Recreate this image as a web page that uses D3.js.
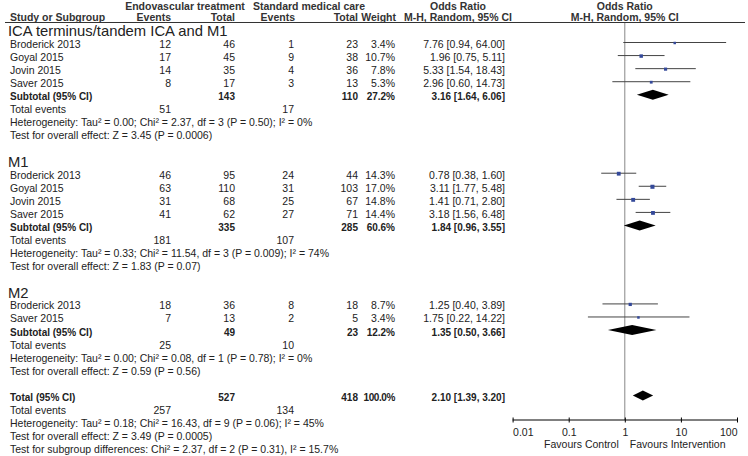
<!DOCTYPE html>
<html>
<head>
<meta charset="utf-8">
<script src="https://cdn.jsdelivr.net/npm/d3@7"></script>
<style>
  html, body { margin: 0; padding: 0; background: #fff; }
  svg { display: block; }
  text { font-family: "Liberation Sans", Arial, sans-serif; fill: #222; }
</style>
</head>
<body>
<svg id="chart" width="748" height="456"></svg>
<script>
// ---------------- DATA ----------------
const groupNames = ["ICA terminus/tandem ICA and M1", "M1", "M2"];
const studyGroup = [0, 0, 0, 0, 1, 1, 1, 1, 2, 2];
const studyNames = ["Broderick 2013", "Goyal 2015", "Jovin 2015", "Saver 2015",
                    "Broderick 2013", "Goyal 2015", "Jovin 2015", "Saver 2015",
                    "Broderick 2013", "Saver 2015"];
const eventsE = [12, 17, 14, 8, 46, 63, 31, 41, 18, 7];
const totalE  = [46, 45, 35, 17, 95, 110, 68, 62, 36, 13];
const eventsC = [1, 9, 4, 3, 24, 31, 25, 27, 8, 2];
const totalC  = [23, 38, 36, 13, 44, 103, 67, 71, 18, 5];
const weights = [3.4, 10.7, 7.8, 5.3, 14.3, 17.0, 14.8, 14.4, 8.7, 3.4];
const orValue = [7.76, 1.96, 5.33, 2.96, 0.78, 3.11, 1.41, 3.18, 1.25, 1.75];
const ciLow   = [0.94, 0.75, 1.54, 0.60, 0.38, 1.77, 0.71, 1.56, 0.40, 0.22];
const ciHigh  = [64.00, 5.11, 18.43, 14.73, 1.60, 5.48, 2.80, 6.48, 3.89, 14.22];

const subTotalE   = [143, 335, 49];
const subTotalC   = [110, 285, 23];
const subWeight   = [27.2, 60.6, 12.2];
const subOR       = [3.16, 1.84, 1.35];
const subLow      = [1.64, 0.96, 0.50];
const subHigh     = [6.06, 3.55, 3.66];
const subEventsE  = [51, 181, 25];
const subEventsC  = [17, 107, 10];
const subHet = [
  "Heterogeneity: Tau² = 0.00; Chi² = 2.37, df = 3 (P = 0.50); I² = 0%",
  "Heterogeneity: Tau² = 0.33; Chi² = 11.54, df = 3 (P = 0.009); I² = 74%",
  "Heterogeneity: Tau² = 0.00; Chi² = 0.08, df = 1 (P = 0.78); I² = 0%"
];
const subEffect = [
  "Test for overall effect: Z = 3.45 (P = 0.0006)",
  "Test for overall effect: Z = 1.83 (P = 0.07)",
  "Test for overall effect: Z = 0.59 (P = 0.56)"
];

const overallTotalE = 527, overallTotalC = 418, overallWeight = 100.0;
const overallOR = 2.10, overallLow = 1.39, overallHigh = 3.20;
const overallEventsE = 257, overallEventsC = 134;
const overallTexts = [
  "Heterogeneity: Tau² = 0.18; Chi² = 16.43, df = 9 (P = 0.06); I² = 45%",
  "Test for overall effect: Z = 3.49 (P = 0.0005)",
  "Test for subgroup differences: Chi² = 2.37, df = 2 (P = 0.31), I² = 15.7%"
];

const axisTicks = [0.01, 0.1, 1, 10, 100];
const axisTickLabels = ["0.01", "0.1", "1", "10", "100"];
const favourLabels = ["Favours Control", "Favours Intervention"];

// ---------------- LAYOUT ----------------
const svg = d3.select("#chart");
const col = { name: 10, title: 8, evE: 171, totE: 235, evC: 294, totC: 358, w: 395, or: 505, orHead: 458 };
const FS = 10.5;
const FSB = 10;
const x = d3.scaleLog().domain([0.01, 100]).range([512.6, 737]);
const rowY = d3.scaleLinear().domain([0, 27]).range([42.5, 395.4]);
const wSize = d3.scaleSqrt().domain([0, 20]).range([1.2, 4.3]);
const fmt2 = d3.format(".2f");
const fmtW = d3.format(".1f");
const orText = (o, l, h) => `${fmt2(o)} [${fmt2(l)}, ${fmt2(h)}]`;

function txt(xp, y, s, opts = {}) {
  const t = svg.append("text")
    .attr("x", xp).attr("y", y)
    .attr("font-size", opts.size || (opts.bold ? FSB : FS))
    .attr("text-anchor", opts.anchor || "start")
    .attr("font-weight", opts.bold ? "bold" : "normal")
    .text(s);
  if (opts.fill) t.style("fill", opts.fill);
  if (opts.ls) t.attr("letter-spacing", opts.ls);
  return t;
}
const base = r => rowY(r) + 5.5;

// Header
const hdrFill = "#333";
const HS = 10.5;
txt(185, 9.8, "Endovascular treatment", { bold: true, size: HS, anchor: "middle", fill: hdrFill });
txt(309, 9.8, "Standard medical care", { bold: true, size: HS, anchor: "middle", fill: hdrFill });
txt(col.orHead, 9.8, "Odds Ratio", { bold: true, size: HS, anchor: "middle", fill: hdrFill });
txt(x(1), 9.8, "Odds Ratio", { bold: true, size: HS, anchor: "middle", fill: hdrFill });
const h2 = 20.5;
txt(col.name, h2, "Study or Subgroup", { bold: true, size: HS, fill: hdrFill });
txt(col.evE, h2, "Events", { bold: true, size: HS, anchor: "end", fill: hdrFill });
txt(col.totE, h2, "Total", { bold: true, size: HS, anchor: "end", fill: hdrFill });
txt(col.evC + 1, h2, "Events", { bold: true, size: HS, anchor: "end", fill: hdrFill });
txt(col.totC, h2, "Total", { bold: true, size: HS, anchor: "end", fill: hdrFill });
txt(col.w + 1, h2, "Weight", { bold: true, size: HS, anchor: "end", fill: hdrFill });
txt(col.orHead, h2, "M-H, Random, 95% CI", { bold: true, size: HS, anchor: "middle", fill: hdrFill });
txt(x(1), h2, "M-H, Random, 95% CI", { bold: true, size: HS, anchor: "middle", fill: hdrFill });
svg.append("line").attr("x1", 5).attr("x2", 745).attr("y1", 22.5).attr("y2", 22.5)
  .attr("stroke", "#333").attr("stroke-width", 1);

// vertical line of no effect
svg.append("line").attr("x1", x(1)).attr("x2", x(1)).attr("y1", 23).attr("y2", 420)
  .attr("stroke", "#888").attr("stroke-width", 1);

function diamond(r, o, l, h) {
  const y = rowY(r), hh = 5;
  svg.append("path")
    .attr("d", `M${x(l)},${y} L${x(o)},${y - hh} L${x(h)},${y} L${x(o)},${y + hh} Z`)
    .attr("fill", "#000");
}

let r = -1;
groupNames.forEach((g, gi) => {
  txt(col.title, rowY(r) + 6.8, g, { size: 14.8 });
  r++;
  studyNames.forEach((s, i) => {
    if (studyGroup[i] !== gi) return;
    const b = base(r);
    txt(col.name, b, s);
    txt(col.evE, b, eventsE[i], { anchor: "end" });
    txt(col.totE, b, totalE[i], { anchor: "end" });
    txt(col.evC, b, eventsC[i], { anchor: "end" });
    txt(col.totC, b, totalC[i], { anchor: "end" });
    txt(col.w, b, fmtW(weights[i]) + "%", { anchor: "end" });
    txt(col.or, b, orText(orValue[i], ciLow[i], ciHigh[i]), { anchor: "end" });
    const y = rowY(r);
    svg.append("line").attr("x1", x(ciLow[i])).attr("x2", x(ciHigh[i]))
      .attr("y1", y).attr("y2", y).attr("stroke", "#444").attr("stroke-width", 1);
    const sz = wSize(weights[i]);
    svg.append("rect").attr("x", x(orValue[i]) - sz / 2).attr("y", y - sz / 2 + 0.5)
      .attr("width", sz).attr("height", sz).attr("fill", "#34499a");
    r++;
  });
  // subtotal
  let b = base(r);
  txt(col.name, b, "Subtotal (95% CI)", { bold: true });
  txt(col.totE, b, subTotalE[gi], { anchor: "end", bold: true });
  txt(col.totC, b, subTotalC[gi], { anchor: "end", bold: true });
  txt(col.w, b, fmtW(subWeight[gi]) + "%", { anchor: "end", bold: true });
  txt(col.or, b, orText(subOR[gi], subLow[gi], subHigh[gi]), { anchor: "end", bold: true });
  diamond(r, subOR[gi], subLow[gi], subHigh[gi]);
  r++;
  b = base(r);
  txt(col.name, b, "Total events");
  txt(col.evE, b, subEventsE[gi], { anchor: "end" });
  txt(col.evC, b, subEventsC[gi], { anchor: "end" });
  r++;
  txt(col.name, base(r), subHet[gi]); r++;
  txt(col.name, base(r), subEffect[gi]); r++;
  r++; // blank
});

// overall
let b = base(r);
txt(col.name, b, "Total (95% CI)", { bold: true });
txt(col.totE, b, overallTotalE, { anchor: "end", bold: true });
txt(col.totC, b, overallTotalC, { anchor: "end", bold: true });
txt(col.w, b, fmtW(overallWeight) + "%", { anchor: "end", bold: true, ls: -0.4 });
txt(col.or, b, orText(overallOR, overallLow, overallHigh), { anchor: "end", bold: true });
diamond(r, overallOR, overallLow, overallHigh);
r++;
b = base(r);
txt(col.name, b, "Total events");
txt(col.evE, b, overallEventsE, { anchor: "end" });
txt(col.evC, b, overallEventsC, { anchor: "end" });
r++;
overallTexts.forEach(t => { txt(col.name, base(r), t); r++; });

// axis
const axY = 420;
const axis = d3.axisBottom(x).tickValues(axisTicks).tickSize(0)
  .tickFormat((d, i) => axisTickLabels[i]);
const ag = svg.append("g").attr("transform", `translate(0,${axY})`).call(axis);
ag.select(".domain").attr("stroke", "#000").attr("d", `M${x(0.01)},0H${x(100)}`);
ag.selectAll(".tick").append("line").attr("y1", -2.5).attr("y2", 2.5).attr("stroke", "#000");
ag.selectAll(".tick text")
  .attr("y", 16).attr("dy", 0)
  .attr("font-size", FS)
  .style("font-family", '"Liberation Sans", Arial, sans-serif')
  .style("fill", "#222")
  .attr("text-anchor", (d, i) => i === 0 ? "start" : (i === axisTicks.length - 1 ? "end" : "middle"));
txt(x(1) - 6, 448, favourLabels[0], { anchor: "end" });
txt(x(1) + 5, 448, favourLabels[1], { anchor: "start" });
</script>
</body>
</html>
